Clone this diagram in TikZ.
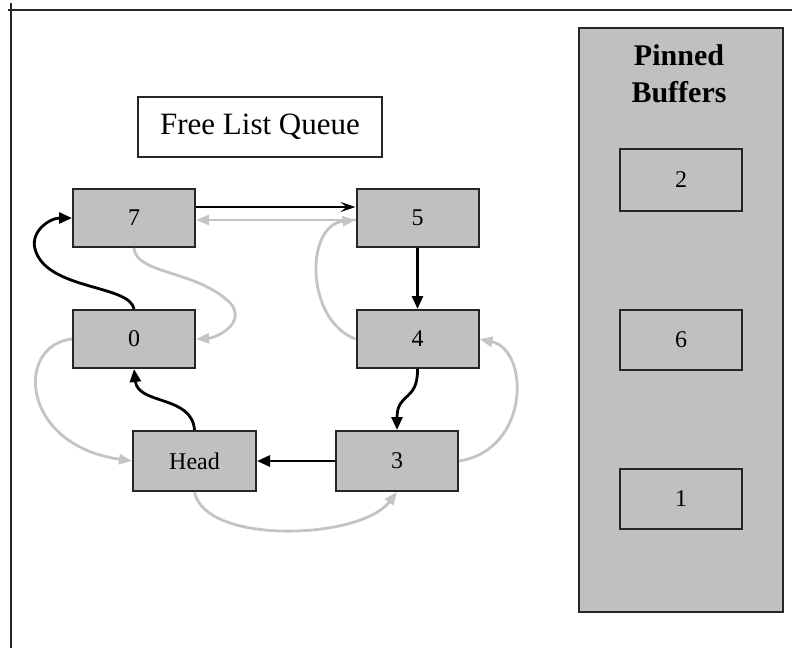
\documentclass[tikz,border=0pt]{standalone}
\usepackage{fontspec}
\setmainfont{Liberation Serif}
\usetikzlibrary{arrows.meta}
\definecolor{boxgray}{HTML}{C0C0C0}
\definecolor{edgegray}{HTML}{C4C4C4}
\definecolor{linedark}{HTML}{262626}
\begin{document}
\begin{tikzpicture}[x=1pt,y=-1pt,
  qbox/.style={draw=linedark, line width=2pt, fill=boxgray, minimum width=122pt, minimum height=58pt, inner sep=0pt, font=\fontsize{24}{28}\selectfont},
  pbox/.style={qbox, minimum height=60pt},
  blk/.style={draw=black, line width=2.8pt, -{Triangle[length=13pt,width=11pt]}},
  blkopen/.style={draw=black, line width=2.6pt, -{Stealth[length=15pt,width=10pt,inset=6pt]}},
  gry/.style={draw=edgegray, line width=2.8pt, -{Triangle[length=13pt,width=10pt]}},
  framel/.style={draw=linedark, line width=2pt}
]
\useasboundingbox (0,0) rectangle (792,648);
\fill[white] (0,0) rectangle (792,648);
% frame
\draw[framel] (8,10) -- (792,10);
\draw[framel] (11,3) -- (11,648);

% title
\node[draw=linedark, line width=2pt, fill=white, minimum width=244pt, minimum height=60pt, inner sep=0pt, font=\fontsize{31}{36}\selectfont] (title) at (260,127) {Free List Queue};

% queue nodes
\node[qbox] (n7) at (134,218) {7};
\node[qbox] (n5) at (417.5,218) {5};
\node[qbox] (n0) at (134,339) {0};
\node[qbox] (n4) at (417.5,339) {4};
\node[qbox, minimum width=123pt, minimum height=60pt] (head) at (194.5,461) {Head};
\node[qbox, minimum height=60pt] (n3) at (397,461) {3};

% pinned buffers
\node[draw=linedark, line width=2pt, fill=boxgray, minimum width=204pt, minimum height=584pt, inner sep=0pt] (pinned) at (681,320) {};
\node[inner sep=0pt, align=center, font=\fontsize{30}{37}\selectfont\bfseries] (ptitle) at (679,73.5) {Pinned\\Buffers};
\node[pbox, minimum height=62pt] (b2) at (681,180) {2};
\node[pbox] (b6) at (681,340) {6};
\node[pbox] (b1) at (681,499) {1};

% black (next) edges
\draw[blkopen] ([yshift=11pt]n7.east) -- ([yshift=11pt]n5.west);
\draw[blk] (n5.south) -- (n4.north);
\draw[blk] (n4.south) .. controls (418,402) and (397,392) .. (n3.north);
\draw[blk] (n3.west) -- (head.east);
\draw[blk] (head.north) .. controls (192,395) and (138,405) .. (n0.south);
\draw[blk] (n0.north) .. controls (130,285) and (50,290) .. (36,252)
                      .. controls (28,232) and (50,218) .. (n7.west);

% gray (prev) edges
\draw[gry] ([yshift=-2pt]n5.west) -- ([yshift=-2pt]n7.east);
\draw[gry] (n7.south) .. controls (136,275) and (200,270) .. (232,305)
                      .. controls (245,325) and (215,338) .. (n0.east);
\draw[gry] (n0.west) .. controls (15,345) and (20,445) .. (head.west);
\draw[gry] (head.south) .. controls (205,545) and (360,540) .. (n3.south);
\draw[gry] (n3.east) .. controls (530,450) and (530,350) .. (n4.east);
\draw[gry] (n4.west) .. controls (305,320) and (305,225) .. ([yshift=-2pt]n5.west);
\end{tikzpicture}
\end{document}
